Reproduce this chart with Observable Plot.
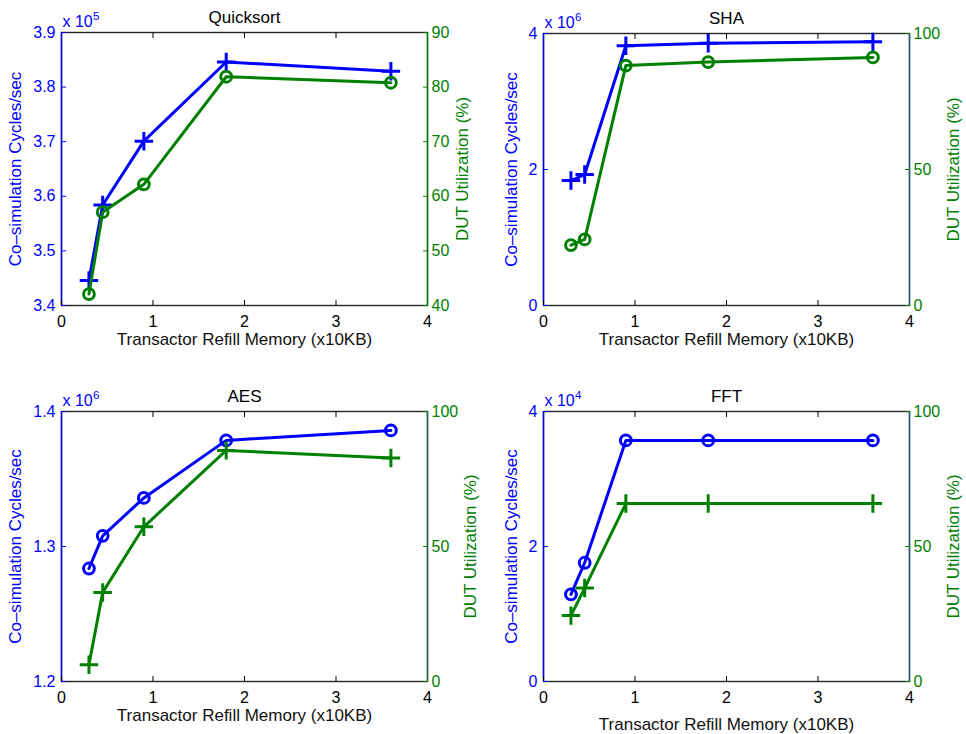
<!DOCTYPE html>
<html><head><meta charset="utf-8">
<script src="https://cdn.jsdelivr.net/npm/d3@7"></script>
<script src="https://cdn.jsdelivr.net/npm/@observablehq/plot@0.6"></script>
<style>
body{margin:0;background:#fff;}
#chart{position:relative;width:966px;height:734px;background:#fff;}
.panel{position:absolute;width:483px;height:367px;}
.panel svg{position:absolute;left:0;top:0;overflow:visible;}
</style></head><body><div id="chart"></div>
<script>
// ---- data ----
const memory = [0.3, 0.45, 0.9, 1.8, 3.6];          // Transactor Refill Memory (x10KB)
const xTicks = [0, 1, 2, 3, 4];
const titles = ["Quicksort", "SHA", "AES", "FFT"];
const quicksortCycles = [344600, 358400, 370100, 384600, 382900];
const quicksortUtil   = [42.1, 57.1, 62.2, 81.9, 80.8];
const shaCycles = [1838000, 1926000, 3819000, 3858000, 3877000];
const shaUtil   = [22.2, 24.3, 88.2, 89.5, 91.2];
const aesCycles = [1283700, 1307900, 1336000, 1378600, 1386000];
const aesUtil   = [6.2, 33.0, 57.3, 85.6, 82.8];
const fftCycles = [12910, 17590, 35710, 35710, 35710];
const fftUtil   = [24.4, 34.6, 65.9, 65.9, 65.9];
const quicksortLeftTicks = [340000, 350000, 360000, 370000, 380000, 390000];
const quicksortRightTicks = [40, 50, 60, 70, 80, 90];
const shaLeftTicks = [0, 2e6, 4e6];
const aesLeftTicks = [1.2e6, 1.3e6, 1.4e6];
const fftLeftTicks = [0, 2e4, 4e4];
const pctTicks = [0, 50, 100];

const xLabel = "Transactor Refill Memory (x10KB)";
const leftLabel = "Co\u2013simulation Cycles/sec";
const rightLabel = "DUT Utilization (%)";

const BLUE = "#0000ff", GREEN = "#008000";
const FONT = "'Liberation Sans', Arial, Helvetica, sans-serif";

const panels = [
  {title: titles[0], cycles: quicksortCycles, util: quicksortUtil, lDom: [340000, 390000], lTicks: quicksortLeftTicks,
   exp: "5", div: 1e5, fmt: d3.format(".1f"), rDom: [40, 90], rTicks: quicksortRightTicks,
   cSym: "plus", uSym: "circle", left: 0, top: 0, ml: 61, mr: 56, mt: 32, mb: 62,
   lDx: -46, rDx: 35.5, xDy: 34, rSpine: GREEN},
  {title: titles[1], cycles: shaCycles, util: shaUtil, lDom: [0, 4e6], lTicks: shaLeftTicks,
   exp: "6", div: 1e6, fmt: d3.format("d"), rDom: [0, 100], rTicks: pctTicks,
   cSym: "plus", uSym: "circle", left: 483, top: 0, ml: 60, mr: 57, mt: 33, mb: 62,
   lDx: -32, rDx: 44.5, xDy: 34, rSpine: "#1f5f7a"},
  {title: titles[2], cycles: aesCycles, util: aesUtil, lDom: [1.2e6, 1.4e6], lTicks: aesLeftTicks,
   exp: "6", div: 1e6, fmt: d3.format(".1f"), rDom: [0, 100], rTicks: pctTicks,
   cSym: "circle", uSym: "plus", left: 0, top: 367, ml: 61, mr: 56, mt: 44, mb: 53,
   lDx: -46, rDx: 43.5, xDy: 34, rSpine: "#1f6f4a"},
  {title: titles[3], cycles: fftCycles, util: fftUtil, lDom: [0, 4e4], lTicks: fftLeftTicks,
   exp: "4", div: 1e4, fmt: d3.format("d"), rDom: [0, 100], rTicks: pctTicks,
   cSym: "circle", uSym: "plus", left: 483, top: 367, ml: 60, mr: 57, mt: 44, mb: 53,
   lDx: -32, rDx: 44.5, xDy: 43, rSpine: "#1f5f7a"}
];

const chart = document.getElementById("chart");

for (const p of panels) {
  const rows = memory.map((m, i) => ({m, c: p.cycles[i], u: p.util[i]}));
  const common = {width: 483, height: 367, marginLeft: p.ml, marginRight: p.mr, marginTop: p.mt, marginBottom: p.mb,
    style: {fontFamily: FONT, background: "transparent", overflow: "visible"}};

  const leftPlot = Plot.plot({
    ...common,
    x: {domain: [0, 4]},
    y: {domain: p.lDom},
    marks: [
      Plot.frame({stroke: "#262626", strokeWidth: 1.4}),
      Plot.ruleX([0], {stroke: BLUE, strokeWidth: 1.4}),
      Plot.axisX({anchor: "bottom", ticks: xTicks, tickSize: -5, tickPadding: 15, fontSize: 16, color: "#000", label: null, tickFormat: d3.format("d")}),
      Plot.axisX({anchor: "top", ticks: [1, 2, 3], tickSize: -5, tickFormat: () => "", color: "#000", label: null}),
      Plot.axisY({anchor: "left", ticks: p.lTicks, tickSize: -5, tickPadding: 11, fontSize: 16, color: BLUE, label: null,
        tickFormat: d => p.fmt(d / p.div)}),
      Plot.line(rows, {x: "m", y: "c", stroke: BLUE, strokeWidth: 3}),
      Plot.dot(rows, {x: "m", y: "c", symbol: p.cSym, r: p.cSym === "plus" ? 6 : 5.4, stroke: BLUE, strokeWidth: 3, fill: p.cSym === "circle" ? "none" : undefined}),
      Plot.text([p.title], {text: d => d, frameAnchor: "top", textAnchor: "middle", lineAnchor: "middle", dy: -15, fontSize: 17, fill: "#000"}),
      Plot.text([xLabel], {text: d => d, frameAnchor: "bottom", textAnchor: "middle", lineAnchor: "middle", dy: p.xDy, fontSize: 17, fill: "#111"}),
      Plot.text([leftLabel], {text: d => d, frameAnchor: "left", textAnchor: "middle", lineAnchor: "middle", dx: p.lDx, rotate: -90, fontSize: 17, fill: BLUE}),
      Plot.text(["x 10"], {text: d => d, frameAnchor: "top-left", textAnchor: "start", lineAnchor: "bottom", dx: 1, dy: -6, fontSize: 16, fill: BLUE}),
      Plot.text([p.exp], {text: d => d, frameAnchor: "top-left", textAnchor: "start", lineAnchor: "bottom", dx: 31.5, dy: -13, fontSize: 11.5, fill: BLUE})
    ]
  });

  const rightPlot = Plot.plot({
    ...common,
    x: {domain: [0, 4], axis: null},
    y: {domain: p.rDom},
    marks: [
      Plot.ruleX([4], {stroke: p.rSpine, strokeWidth: 1.4}),
      Plot.axisY({anchor: "right", ticks: p.rTicks, tickSize: -5, tickPadding: 9, fontSize: 16, color: GREEN, label: null, tickFormat: d3.format("d")}),
      Plot.line(rows, {x: "m", y: "u", stroke: GREEN, strokeWidth: 3}),
      Plot.dot(rows, {x: "m", y: "u", symbol: p.uSym, r: p.uSym === "plus" ? 6 : 5.4, stroke: GREEN, strokeWidth: 3, fill: p.uSym === "circle" ? "none" : undefined}),
      Plot.text([rightLabel], {text: d => d, frameAnchor: "right", textAnchor: "middle", lineAnchor: "middle", dx: p.rDx, rotate: -90, fontSize: 17, fill: GREEN})
    ]
  });

  const div = document.createElement("div");
  div.className = "panel";
  div.style.left = p.left + "px";
  div.style.top = p.top + "px";
  div.appendChild(leftPlot);
  div.appendChild(rightPlot);
  chart.appendChild(div);
}
</script>
</body></html>
